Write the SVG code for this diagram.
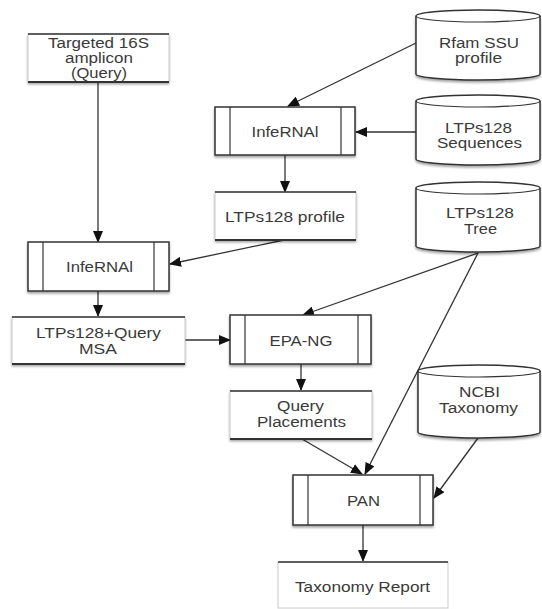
<svg xmlns="http://www.w3.org/2000/svg" width="542" height="609" viewBox="0 0 542 609">
<style>
text{font-family:"Liberation Sans",Arial,sans-serif;font-size:14px;fill:#3a3a3a;text-anchor:middle}
.bx{fill:#fff;stroke:#c8c8c8;stroke-width:1}
.ed{stroke:#333;stroke-width:1.5;fill:none}
.edb{stroke:#333;stroke-width:2;fill:none}
.pr{fill:#fff;stroke:#333;stroke-width:1.5}
.in{stroke:#333;stroke-width:1.2;fill:none}
.cy{fill:#fff;stroke:#333;stroke-width:1.5}
.cn{stroke:#333;stroke-width:1.3;fill:none;marker-end:url(#ah)}
</style>
<defs>
<marker id="ah" markerUnits="userSpaceOnUse" markerWidth="12" markerHeight="10" refX="11" refY="5" orient="auto">
<path d="M0,0 L12,5 L0,10 Z" fill="#111"/>
</marker>
<filter id="sh" x="-10%" y="-10%" width="125%" height="130%">
<feDropShadow dx="0" dy="2" stdDeviation="1.2" flood-color="#000" flood-opacity="0.35"/>
</filter>
</defs>
<g id="connectors">
<line class="cn" x1="98" y1="83" x2="98" y2="242"/>
<line class="cn" x1="416" y1="43" x2="288" y2="106"/>
<line class="cn" x1="416" y1="132" x2="356" y2="132"/>
<line class="cn" x1="285" y1="155" x2="285" y2="192"/>
<line class="cn" x1="284" y1="240" x2="170" y2="264"/>
<line class="cn" x1="98" y1="291" x2="98" y2="316"/>
<line class="cn" x1="185" y1="340" x2="230" y2="340"/>
<line class="cn" x1="478" y1="253" x2="303" y2="315"/>
<line class="cn" x1="478" y1="253" x2="365" y2="474"/>
<line class="cn" x1="301" y1="364" x2="301" y2="390"/>
<line class="cn" x1="302" y1="439" x2="362" y2="474"/>
<line class="cn" x1="478" y1="438" x2="434" y2="498"/>
<line class="cn" x1="363" y1="525" x2="363" y2="561"/>
</g>
<g id="targeted">
<rect class="bx" x="28" y="34" width="141" height="48" filter="url(#sh)"/>
<line class="ed" x1="28" y1="34" x2="169" y2="34"/>
<line class="edb" x1="28" y1="82" x2="169" y2="82"/>
<text x="98.5" y="48" textLength="101" lengthAdjust="spacingAndGlyphs">Targeted 16S</text>
<text x="99" y="63" textLength="68" lengthAdjust="spacingAndGlyphs">amplicon</text>
<text x="99" y="78" textLength="56" lengthAdjust="spacingAndGlyphs">(Query)</text>
</g>
<g id="rfam">
<path class="cy" filter="url(#sh)" d="M416,16 A62,6 0 0,1 540,16 L540,74 A62,6 0 0,1 416,74 Z"/>
<path class="in" d="M416,16 A62,6 0 0,0 540,16"/>
<text x="479" y="48" textLength="80" lengthAdjust="spacingAndGlyphs">Rfam SSU</text>
<text x="478.5" y="63" textLength="47" lengthAdjust="spacingAndGlyphs">profile</text>
</g>
<g id="infernal1">
<rect class="pr" x="215" y="107" width="140" height="48" filter="url(#sh)"/>
<line class="in" x1="230" y1="107" x2="230" y2="155"/>
<line class="in" x1="341" y1="107" x2="341" y2="155"/>
<text x="285" y="137" textLength="67" lengthAdjust="spacingAndGlyphs">InfeRNAl</text>
</g>
<g id="sequences">
<path class="cy" filter="url(#sh)" d="M416,101 A62,6 0 0,1 540,101 L540,159 A62,6 0 0,1 416,159 Z"/>
<path class="in" d="M416,101 A62,6 0 0,0 540,101"/>
<text x="478.5" y="133" textLength="67" lengthAdjust="spacingAndGlyphs">LTPs128</text>
<text x="479.5" y="148" textLength="85" lengthAdjust="spacingAndGlyphs">Sequences</text>
</g>
<g id="profile">
<rect class="bx" x="215" y="192" width="141" height="48" filter="url(#sh)"/>
<line class="ed" x1="215" y1="192" x2="356" y2="192"/>
<line class="edb" x1="215" y1="240" x2="356" y2="240"/>
<text x="285" y="222" textLength="120" lengthAdjust="spacingAndGlyphs">LTPs128 profile</text>
</g>
<g id="tree">
<path class="cy" filter="url(#sh)" d="M416,188 A62,6 0 0,1 540,188 L540,246 A62,6 0 0,1 416,246 Z"/>
<path class="in" d="M416,188 A62,6 0 0,0 540,188"/>
<text x="480" y="218" textLength="68" lengthAdjust="spacingAndGlyphs">LTPs128</text>
<text x="480.5" y="234" textLength="33" lengthAdjust="spacingAndGlyphs">Tree</text>
</g>
<g id="infernal2">
<rect class="pr" x="28" y="242" width="141" height="49" filter="url(#sh)"/>
<line class="in" x1="43" y1="242" x2="43" y2="291"/>
<line class="in" x1="154" y1="242" x2="154" y2="291"/>
<text x="99.5" y="272" textLength="67" lengthAdjust="spacingAndGlyphs">InfeRNAl</text>
</g>
<g id="msa">
<rect class="bx" x="12" y="317" width="173" height="47" filter="url(#sh)"/>
<line class="ed" x1="12" y1="317" x2="185" y2="317"/>
<line class="edb" x1="12" y1="364" x2="185" y2="364"/>
<text x="98.5" y="338" textLength="125" lengthAdjust="spacingAndGlyphs">LTPs128+Query</text>
<text x="98" y="354" textLength="38" lengthAdjust="spacingAndGlyphs">MSA</text>
</g>
<g id="epang">
<rect class="pr" x="230" y="315" width="141" height="49" filter="url(#sh)"/>
<line class="in" x1="245" y1="315" x2="245" y2="364"/>
<line class="in" x1="358" y1="315" x2="358" y2="364"/>
<text x="301" y="346" textLength="63" lengthAdjust="spacingAndGlyphs">EPA-NG</text>
</g>
<g id="placements">
<rect class="bx" x="230" y="391" width="142" height="48" filter="url(#sh)"/>
<line class="ed" x1="230" y1="391" x2="372" y2="391"/>
<line class="edb" x1="230" y1="439" x2="372" y2="439"/>
<text x="300.5" y="411" textLength="47" lengthAdjust="spacingAndGlyphs">Query</text>
<text x="301.5" y="427" textLength="89" lengthAdjust="spacingAndGlyphs">Placements</text>
</g>
<g id="ncbi">
<path class="cy" filter="url(#sh)" d="M418,371 A61,6 0 0,1 540,371 L540,432 A61,6 0 0,1 418,432 Z"/>
<path class="in" d="M418,371 A61,6 0 0,0 540,371"/>
<text x="479.5" y="397" textLength="41" lengthAdjust="spacingAndGlyphs">NCBI</text>
<text x="478.5" y="413" textLength="79" lengthAdjust="spacingAndGlyphs">Taxonomy</text>
</g>
<g id="pan">
<rect class="pr" x="293" y="475" width="140" height="50" filter="url(#sh)"/>
<line class="in" x1="308" y1="475" x2="308" y2="525"/>
<line class="in" x1="420" y1="475" x2="420" y2="525"/>
<text x="363.5" y="506" textLength="33" lengthAdjust="spacingAndGlyphs">PAN</text>
</g>
<g id="report">
<rect class="bx" x="278" y="562" width="170" height="46"/>
<line class="ed" x1="278" y1="562" x2="448" y2="562"/>
<text x="362.5" y="592" textLength="135" lengthAdjust="spacingAndGlyphs">Taxonomy Report</text>
</g>
</svg>
